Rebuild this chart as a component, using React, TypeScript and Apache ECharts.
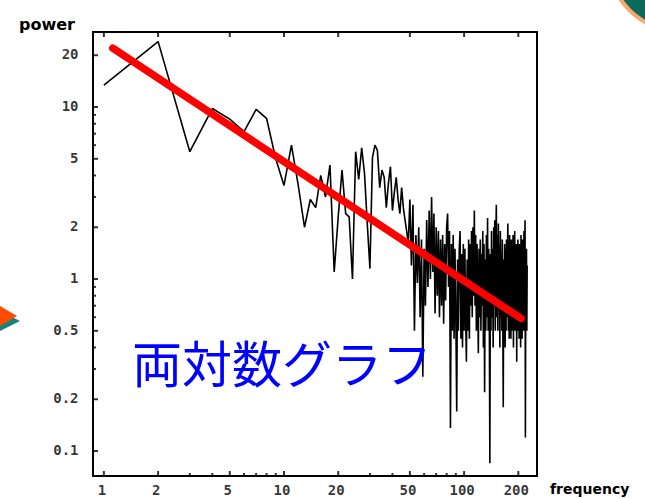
import React, { useEffect, useRef } from "react";
import * as echarts from "echarts";

// power spectrum values at integer frequencies 1, 2, 3, ...
const power = [
  13.4, 24, 5.5, 9.8, 8.5, 7.2, 9.7, 8.6, 5.0, 3.5,
  6.0, 3.5, 2.0, 2.9, 2.6, 4.0, 3.0, 4.6, 1.1, 2.3,
  4.3, 2.4, 2.3, 1.0, 5.5, 3.8, 5.8, 4.1, 2.1, 1.15,
  5.1, 6.0, 5.6, 3.4, 4.3, 3.9, 2.6, 3.6, 4.5, 2.5,
  3.2, 3.9, 2.9, 2.4, 3.4, 2.6, 2.2, 1.9, 1.6, 2.9,
  1.2, 2.7, 0.5, 1.8, 0.95, 2.0, 0.6, 1.7, 0.27, 1.5,
  0.7, 2.2, 0.9, 2.5, 1.0, 3.0, 1.1, 2.4, 0.63, 2.0,
  0.8, 1.9, 0.6, 1.7, 0.7, 1.8, 0.55, 1.6, 0.75, 2.0,
  2.4, 0.9, 1.9, 0.136, 1.6, 0.5, 1.8, 0.45, 1.5, 0.6,
  0.17, 1.3, 0.5, 1.5, 1.9, 0.45, 1.4, 0.4, 1.6, 0.5,
  1.5, 0.6, 0.33, 1.3, 0.5, 1.7, 0.45, 1.6, 0.7, 1.9,
  0.6, 2.0, 0.8, 2.5, 0.7, 1.8, 0.5, 1.6, 0.8, 0.37,
  1.5, 0.6, 1.7, 0.5, 1.4, 0.7, 1.9, 0.4, 1.6, 0.22,
  1.3, 0.5, 1.8, 0.6, 2.26, 0.5, 1.5, 0.7, 0.085, 1.4,
  0.5, 1.9, 0.6, 1.5, 0.4, 2.0, 0.7, 2.2, 0.5, 1.7,
  2.7, 0.6, 1.8, 0.5, 2.1, 0.7, 1.6, 0.4, 1.9, 0.6,
  1.4, 0.5, 1.7, 0.6, 0.18, 1.3, 0.5, 1.6, 0.4, 1.5,
  0.5, 1.7, 0.6, 1.4, 2.1, 0.5, 1.6, 0.45, 1.8, 0.6,
  1.3, 0.45, 1.7, 0.5, 1.5, 0.7, 1.8, 0.4, 1.4, 0.6,
  1.9, 0.5, 1.3, 0.55, 1.6, 0.33, 1.4, 0.6, 1.7, 0.5,
  1.5, 0.45, 1.6, 0.6, 1.2, 0.4, 1.8, 0.55, 1.4, 0.45,
  1.7, 0.6, 1.3, 0.5, 1.9, 0.55, 1.2, 2.2, 0.12, 1.0,
  0.6, 1.5, 0.5, 1.2,
];

// fitted power-law line (two end points)
const fitFreq = [1.12, 207];
const fitPower = [22, 0.59];

const xMajorTicks = [1, 2, 5, 10, 20, 50, 100, 200];
const xTickLabels = ["1", "2", "5", "10", "20", "50", "100", "200"];
const xMinorTicks = [3, 4, 6, 7, 8, 9, 30, 40, 60, 70, 80, 90];
const yMajorTicks = [0.1, 0.2, 0.5, 1, 2, 5, 10, 20];
const yTickLabels = ["0.1", "0.2", "0.5", "1", "2", "5", "10", "20"];
const yMinorTicks = [0.3, 0.4, 0.6, 0.7, 0.8, 0.9, 3, 4, 6, 7, 8, 9];

const X_MIN = 0.87;
const X_MAX = 254;
const Y_MIN = 0.0716;
const Y_MAX = 27.3;

const TICK_FONT = "'DejaVu Sans Mono', monospace";

export default function App() {
  const ref = useRef<HTMLDivElement>(null);

  useEffect(() => {
    if (!ref.current) return;
    const chart = echarts.init(ref.current, undefined, { renderer: "svg" });

    const tickSeries = (data: number[][], size: number[], offset: number[]) => ({
      type: "scatter",
      data,
      symbol: "rect",
      symbolSize: size,
      symbolOffset: offset,
      itemStyle: { color: "#000" },
      clip: false,
      silent: true,
      z: 3,
    });

    const labelSeries = (data: number[][], labels: string[], position: string, distance: number, offset: number[]) => ({
      type: "scatter",
      data,
      symbolSize: 1,
      itemStyle: { color: "rgba(0,0,0,0)" },
      clip: false,
      silent: true,
      label: {
        show: true,
        position,
        distance,
        offset,
        formatter: (p: any) => labels[p.dataIndex],
        color: "#000",
        fontFamily: TICK_FONT,
        fontWeight: "bold",
        fontSize: 14,
      },
    });

    chart.setOption({
      animation: false,
      backgroundColor: "#fff",
      grid: {
        left: 93,
        top: 32,
        width: 444,
        height: 444,
        show: true,
        borderColor: "#000",
        borderWidth: 2,
        backgroundColor: "transparent",
      },
      xAxis: {
        type: "log",
        logBase: 10,
        min: X_MIN,
        max: X_MAX,
        axisLine: { show: false },
        axisTick: { show: false },
        axisLabel: { show: false },
        splitLine: { show: false },
        minorTick: { show: false },
      },
      yAxis: {
        type: "log",
        logBase: 10,
        min: Y_MIN,
        max: Y_MAX,
        axisLine: { show: false },
        axisTick: { show: false },
        axisLabel: { show: false },
        splitLine: { show: false },
        minorTick: { show: false },
      },
      graphic: [
        { type: "circle", shape: { cx: 682, cy: -42, r: 76 }, style: { fill: "#f8a868" } },
        { type: "circle", shape: { cx: 682, cy: -42, r: 72 }, style: { fill: "#0c6a5a" } },
        { type: "polygon", shape: { points: [[0, 311], [20, 321], [0, 331]] }, style: { fill: "#17817a" } },
        { type: "polygon", shape: { points: [[0, 306], [17, 316], [0, 326]] }, style: { fill: "#ff4a00" } },
        {
          type: "text",
          x: 19,
          y: 16,
          style: {
            text: "power",
            fill: "#000",
            fontSize: 16,
            fontWeight: "bold",
            fontFamily: "'DejaVu Sans', sans-serif",
            verticalAlign: "top",
          },
        },
        {
          type: "text",
          x: 550,
          y: 482,
          style: {
            text: "frequency",
            fill: "#000",
            fontSize: 14,
            fontWeight: "bold",
            fontFamily: "'DejaVu Sans', sans-serif",
            verticalAlign: "top",
          },
        },
        {
          type: "text",
          x: 132,
          y: 336,
          z: 10,
          style: {
            text: "両対数グラフ",
            fill: "#0000ff",
            fontSize: 50,
            fontFamily: "'Noto Sans CJK JP', sans-serif",
            verticalAlign: "top",
          },
        },
      ],
      series: [
        tickSeries(xMajorTicks.map((f) => [f, Y_MIN]), [2, 5], [0, -2.5]),
        tickSeries(xMinorTicks.map((f) => [f, Y_MIN]), [2, 3], [0, -1.5]),
        tickSeries(xMajorTicks.map((f) => [f, Y_MAX]), [2, 5], [0, 2.5]),
        tickSeries(yMajorTicks.map((v) => [X_MIN, v]), [5, 2], [2.5, 0]),
        tickSeries(yMinorTicks.map((v) => [X_MIN, v]), [3, 2], [1.5, 0]),
        labelSeries(xMajorTicks.map((f) => [f, Y_MIN]), xTickLabels, "bottom", 6, [-2, 0]),
        labelSeries(yMajorTicks.map((v) => [X_MIN, v]), yTickLabels, "left", 14, [0, -1]),
        {
          type: "line",
          data: power.map((v, i) => [i + 1, v]),
          showSymbol: false,
          symbol: "none",
          lineStyle: { color: "#000", width: 1.6 },
          silent: true,
          z: 4,
        },
        {
          type: "line",
          data: fitFreq.map((f, i) => [f, fitPower[i]]),
          showSymbol: false,
          symbol: "none",
          lineStyle: { color: "#ff0000", width: 7.5, cap: "round" },
          silent: true,
          z: 5,
        },
      ],
    });

    return () => chart.dispose();
  }, []);

  return (
    <div
      ref={ref}
      style={{ position: "fixed", left: 0, top: 0, width: 645, height: 499, background: "#fff" }}
    />
  );
}
